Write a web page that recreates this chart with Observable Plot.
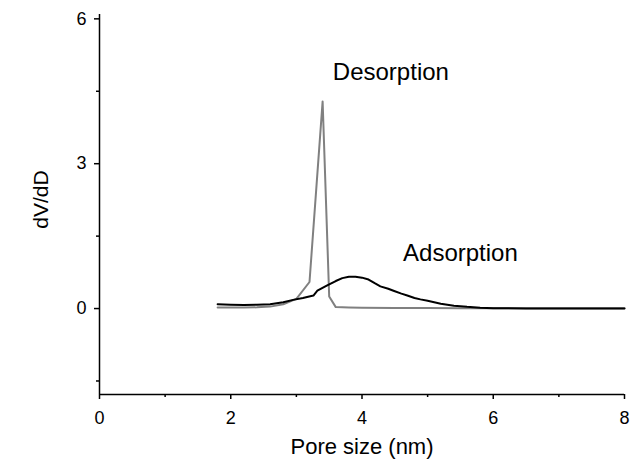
<!DOCTYPE html>
<html>
<head>
<meta charset="utf-8">
<script src="https://cdn.jsdelivr.net/npm/d3@7"></script>
<script src="https://cdn.jsdelivr.net/npm/@observablehq/plot@0.6"></script>
<style>
  body { margin: 0; background: #fff; }
  svg { display: block; }
</style>
</head>
<body>
<div id="chart"></div>
<script>
// Pore size distribution (BJH), dV/dD versus pore diameter in nm
const desorptionSize = [1.8, 2.0, 2.2, 2.4, 2.6, 2.8, 3.0, 3.2, 3.4, 3.5, 3.6, 3.8, 4.0, 4.5, 5.0, 5.5, 6.0, 6.5, 7.0, 7.5, 8.0];
const desorptionDV   = [0.02, 0.02, 0.02, 0.025, 0.04, 0.09, 0.2, 0.55, 4.29, 0.25, 0.03, 0.02, 0.015, 0.01, 0.01, 0.008, 0.006, 0.005, 0.004, 0.004, 0.004];

const adsorptionSize = [1.8, 2.0, 2.2, 2.4, 2.6, 2.8, 2.95, 3.1, 3.26, 3.32, 3.47, 3.6, 3.7, 3.8, 3.9, 4.0, 4.1, 4.2, 4.28, 4.4, 4.48, 4.6, 4.69, 4.8, 4.89, 5.0, 5.2, 5.4, 5.6, 5.8, 6.0, 6.5, 7.0, 7.5, 8.0];
const adsorptionDV   = [0.09, 0.08, 0.075, 0.08, 0.09, 0.13, 0.18, 0.22, 0.27, 0.37, 0.48, 0.57, 0.63, 0.66, 0.66, 0.64, 0.6, 0.52, 0.46, 0.41, 0.37, 0.31, 0.27, 0.22, 0.19, 0.16, 0.1, 0.06, 0.035, 0.018, 0.008, 0.003, 0.002, 0.001, 0.0];

const xMajor = [0, 2, 4, 6, 8];
const xMinor = [1, 3, 5, 7];
const yMajor = [0, 3, 6];
const yMinor = [-1.5, 1.5, 4.5];
const xDomain = [0, 8];
const yDomain = [-1.78, 6.09];

const seriesNames = ["Desorption", "Adsorption"];
const labelX = [4.44, 5.5];
const labelY = [4.89, 1.14];

const desorption = desorptionSize.map((x, i) => ({x, y: desorptionDV[i]}));
const adsorption = adsorptionSize.map((x, i) => ({x, y: adsorptionDV[i]}));
const labels = seriesNames.map((name, i) => ({name, x: labelX[i], y: labelY[i]}));

const font = "'Liberation Sans', Arial, Helvetica, sans-serif";

const chart = Plot.plot({
  width: 637,
  height: 468,
  marginLeft: 99,
  marginRight: 13,
  marginTop: 14,
  marginBottom: 74,
  style: {fontFamily: font, fontSize: "18px", background: "#fff", color: "#000"},
  x: {domain: xDomain},
  y: {domain: yDomain},
  marks: [
    // axis lines
    Plot.ruleX([xDomain[0]], {y1: yDomain[0], y2: yDomain[1], stroke: "#000", strokeWidth: 1.5}),
    Plot.ruleY([yDomain[0]], {x1: xDomain[0], x2: xDomain[1], stroke: "#000", strokeWidth: 1.5}),
    // ticks
    Plot.axisX({ticks: xMajor, tickSize: 5, tickPadding: 12, strokeWidth: 1.5, label: null}),
    Plot.axisX({ticks: xMinor, tickSize: 3, tickFormat: () => "", strokeWidth: 1.5, label: null}),
    Plot.axisY({ticks: yMajor, tickSize: 5, tickPadding: 8, strokeWidth: 1.5, label: null}),
    Plot.axisY({ticks: yMinor, tickSize: 3, tickFormat: () => "", strokeWidth: 1.5, label: null}),
    // curves
    Plot.line(desorption, {x: "x", y: "y", stroke: "#808080", strokeWidth: 2}),
    Plot.line(adsorption, {x: "x", y: "y", stroke: "#000", strokeWidth: 2}),
    // series labels
    Plot.text(labels, {x: "x", y: "y", text: "name", fontSize: 24, fill: "#000", textAnchor: "middle"}),
    // axis titles
    Plot.text(["Pore size (nm)"], {frameAnchor: "bottom", dy: 59, fontSize: 22, fill: "#000", textAnchor: "middle"}),
    Plot.text(["dV/dD"], {frameAnchor: "left", dx: -58, dy: -5, rotate: -90, fontSize: 21, fill: "#000", textAnchor: "middle"})
  ]
});

document.getElementById("chart").append(chart);
</script>
</body>
</html>
